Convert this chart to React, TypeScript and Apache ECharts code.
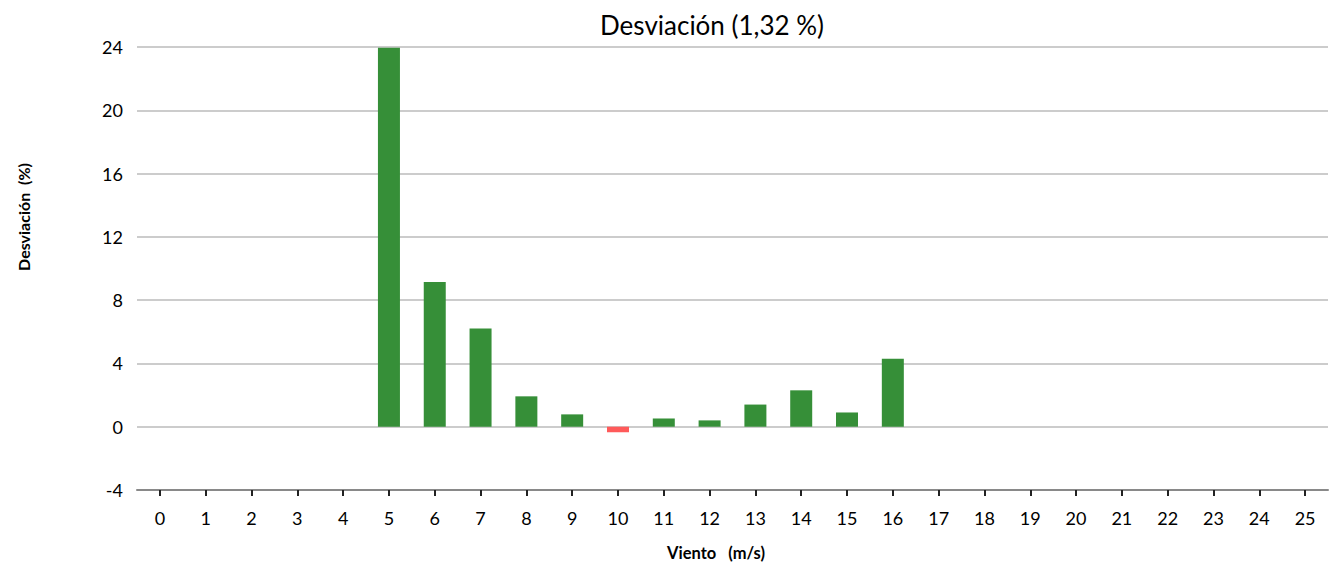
import React, { useEffect, useRef } from "react";
import * as echarts from "echarts";

const categories = ["0","1","2","3","4","5","6","7","8","9","10","11","12","13","14","15","16","17","18","19","20","21","22","23","24","25"];
const deviation = [0, 0, 0, 0, 0, 23.95, 9.15, 6.2, 1.92, 0.78, -0.35, 0.52, 0.4, 1.4, 2.3, 0.9, 4.3, 0, 0, 0, 0, 0, 0, 0, 0, 0];
const yTicks = { min: -4, max: 24, interval: 4 };
const titleText = "Desviación (1,32 %)";
const xName = "Viento   (m/s)";
const yName = "Desviación  (%)";

const GREEN = "#368F38";
const RED = "#FF5A5A";
const FONT = "Lato, 'Open Sans', sans-serif";

export default function App() {
  const ref = useRef<HTMLDivElement>(null);
  useEffect(() => {
    document.body.style.margin = "0";
    if (!ref.current) return;
    const chart = echarts.init(ref.current, null, { renderer: "svg" });
    chart.setOption({
      animation: false,
      backgroundColor: "#ffffff",
      textStyle: { fontFamily: FONT },
      title: {
        text: titleText,
        left: 595,
        top: 7,
        textStyle: { fontFamily: FONT, fontSize: 26, fontWeight: "normal", color: "#000" },
      },
      grid: { left: 137, right: 3, top: 47, bottom: 76, containLabel: false },
      xAxis: {
        type: "category",
        data: categories,
        boundaryGap: true,
        axisLine: { onZero: false, lineStyle: { color: "#898989", width: 2 } },
        axisTick: { show: true, alignWithLabel: true, length: 6, lineStyle: { color: "#222", width: 2 } },
        axisLabel: { color: "#000", fontSize: 18, fontFamily: FONT, margin: 19 },
        splitLine: { show: false },
      },
      yAxis: {
        type: "value",
        min: yTicks.min,
        max: yTicks.max,
        interval: yTicks.interval,
        axisLine: { show: false },
        axisTick: { show: false },
        axisLabel: { color: "#000", fontSize: 18, fontFamily: FONT, margin: 14 },
        splitLine: { show: true, lineStyle: { color: "#cccccc", width: 2 } },
      },
      graphic: [
        {
          type: "text",
          x: 716,
          y: 553,
          style: {
            text: xName,
            fontFamily: FONT,
            fontSize: 16.5,
            fontWeight: "bold",
            fill: "#000",
            align: "center",
            verticalAlign: "middle",
          },
        },
        {
          type: "text",
          x: 23,
          y: 217,
          rotation: Math.PI / 2,
          style: {
            text: yName,
            fontFamily: FONT,
            fontSize: 16,
            fontWeight: "bold",
            fill: "#000",
            align: "center",
            verticalAlign: "middle",
          },
        },
      ],
      series: [
        {
          type: "bar",
          data: deviation.map((v) => ({
            value: v,
            itemStyle: { color: v < 0 ? RED : GREEN },
          })),
          barWidth: 22,
        },
      ],
    });
    return () => chart.dispose();
  }, []);
  return <div ref={ref} style={{ width: 1331, height: 566 }} />;
}
